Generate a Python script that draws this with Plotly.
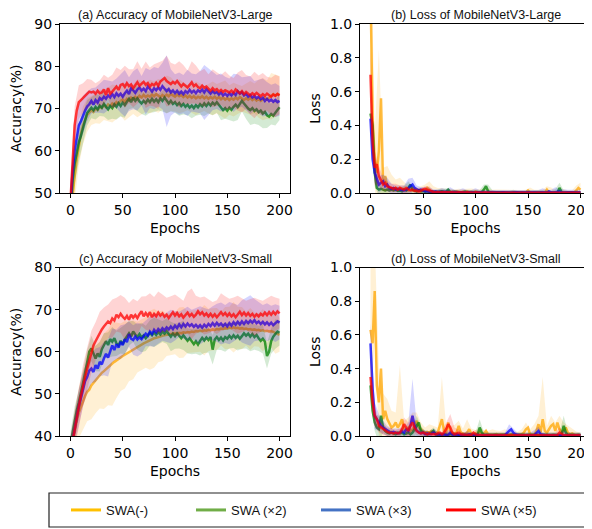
import plotly.graph_objects as go

EPOCHS = list(range(0, 201, 2))
SERIES = ["SWA(-)", "SWA (×2)", "SWA (×3)", "SWA (×5)"]
LEGEND_COLORS = ["#FFC000", "#70AD47", "#4472C4", "#FF0000"]
LINE_RGB = ["255,165,0", "0,128,0", "0,0,255", "255,0,0"]
TITLES = ["(a) Accuracy of MobileNetV3-Large", "(b) Loss of MobileNetV3-Large",
          "(c) Accuracy of MobileNetV3-Small", "(d) Loss of MobileNetV3-Small"]

# ---------------- (a) accuracy, Large ----------------
A_ORANGE = [44, 50, 54, 58, 61.5, 64, 66, 67.5, 68.5, 69,
            69.6, 69.2, 70, 69.6, 70.4, 70.1, 70.8, 70.3, 71, 70.6,
            71.2, 70.8, 71.5, 71.1, 71.8, 72.1, 71.6, 72.3, 71.9, 72.6,
            72.2, 72.8, 72.4, 73, 72.6, 73.2, 72.7, 73.1, 72.8, 73.3,
            72.9, 73.4, 73, 72.7, 73.2, 72.8, 73.3, 72.9, 73.4, 73,
            72.8, 73.3, 72.9, 73.2, 72.7, 73.1, 72.6, 73, 72.5, 72.9,
            72.4, 72.8, 72.5, 72.9, 72.4, 72.8, 72.3, 72.7, 72.4, 72.8,
            72.3, 72.7, 72.2, 72.6, 72.1, 72.5, 72, 72.4, 72.1, 72.6,
            72.2, 72.7, 72.3, 72, 72.4, 72.1, 72.5, 72, 72.4, 71.9,
            72.3, 71.8, 72.2, 72.6, 72.1, 72.5, 72.9, 73.4, 73, 73.5,
            73.2]
A_GREEN = [46, 53, 57, 60, 62, 63.5, 65.5, 67.5, 69, 69.6,
           70.2, 69.6, 70.4, 69.8, 70.7, 70.2, 71.1, 70.4, 69.8, 70.6,
           70.1, 71, 70.4, 71.3, 70.6, 71.4, 70.8, 71.6, 72.3, 71.5,
           72.6, 71.8, 72.4, 71.7, 71.2, 71.8, 71.3, 72.1, 71.5, 72.3,
           71.6, 72.2, 71.5, 72.4, 71.8, 72.6, 71.9, 71.2, 71.8, 71.1,
           71.5, 70.8, 71.3, 70.6, 71.1, 70.4, 70.9, 70.2, 70.7, 70.1,
           70.8, 70.3, 71, 70.5, 71.2, 70.6, 71.3, 70.7, 71.4, 70.9,
           71.5, 70.8, 70.2, 69.6, 70.1, 69.5, 70.2, 69.7, 70.4, 70.9,
           70.3, 71, 71.8, 71.2, 70.5, 70, 69.6, 70.1, 69.4, 69.8,
           69.1, 69.5, 68.8, 69.2, 68.4, 68.1, 68.7, 68.3, 69, 69.6,
           70.3]
A_BLUE = [47, 55, 60, 63.5, 66, 67, 68.5, 69.5, 70.5, 71,
          71.8, 70.9, 72, 71.4, 72.5, 72.1, 72.8, 72.3, 73.1, 72.6,
          73.4, 72.7, 73.6, 73, 73.5, 72.8, 73.6, 74.2, 73.4, 74.8,
          74.3, 73.7, 74.5, 75, 74.2, 74.7, 74.1, 75.2, 74.6, 74,
          74.8, 74.3, 75, 74.4, 75.3, 74.7, 74.1, 74.6, 73.8, 74.3,
          73.6, 74.2, 73.5, 74, 73.4, 74.1, 73.7, 74.4, 73.8, 74.2,
          73.6, 74.3, 73.9, 74.5, 73.8, 74.6, 74, 73.5, 74.1, 73.6,
          73.9, 73.3, 73.8, 73.1, 73.5, 73, 73.6, 73.1, 73.7, 73.2,
          74.1, 73.5, 73.9, 73.1, 73.5, 72.8, 73.2, 72.6, 73, 72.4,
          72.8, 72.2, 72.6, 71.8, 72.3, 71.7, 72.1, 71.6, 72, 71.5,
          71.8]
A_RED = [48, 58, 66, 69.5, 71.5, 72, 72.5, 73, 73.5, 74,
         73.8, 74, 73.5, 74.2, 73.6, 73.8, 74.5, 73.2, 74.8, 73.5,
         74, 74.6, 75.2, 74.4, 75.6, 75.8, 75.1, 76, 75.3, 75.7,
         74.8, 75.5, 76.2, 75.4, 75.9, 76.3, 75.6, 76, 75.2, 75.8,
         75.5, 76.1, 75.4, 76.4, 76.8, 77.2, 76.5, 76.1, 75.8, 76.3,
         75.9, 76.5, 75.7, 75.2, 75.8, 75.4, 75, 75.6, 76.2, 75.3,
         75.7, 75.1, 74.8, 75.4, 74.9, 75.2, 74.6, 74.2, 74.8, 74.3,
         74.6, 74, 74.4, 73.9, 74.3, 74.1, 73.8, 74.2, 73.7, 74.5,
         74, 73.6, 74.1, 73.4, 73.9, 73.5, 73.1, 73.6, 73.2, 73.7,
         73.3, 72.9, 73.4, 73, 73.5, 73.2, 72.8, 73.3, 73, 73.4,
         73.1]
# band half-widths, every 4 epochs
A_ORANGE_SD = [6, 6, 5, 4.5, 4, 3.5, 3.5, 4, 3.5, 4, 4.5, 4, 3.5, 4.5, 4, 3.5, 4.5, 4, 3.5, 4,
               3.5, 4, 3.5, 4.5, 4, 3.5, 4, 3.5, 3, 3.5, 4, 3.5, 3, 3.5, 4, 3.5, 4, 4.5, 3.5, 4,
               3.5, 3, 3.5, 4, 3.5, 4.5, 5, 4.5, 5.5, 5, 4.5]
A_GREEN_SD = [5, 5, 4.5, 3.5, 3, 2.5, 3, 2.5, 3, 2.5, 2.5, 3, 2.5, 3, 2.5, 2.5, 3, 2.5, 3, 2.5,
              2.5, 2, 2.5, 3, 2.5, 2.5, 3, 2.5, 2.5, 3, 2.5, 2.5, 3, 2.5, 3, 2.5, 3, 2.5, 3, 3.5,
              3, 2.5, 3, 3.5, 3, 3, 3.5, 3, 2.5, 3, 3]
A_BLUE_SD = [5, 5.5, 5, 4.5, 3.5, 3, 3, 3.5, 4, 3.5, 3, 3.5, 4.5, 5.5, 4, 4.5, 5, 3.5, 5.5, 4.5,
             5, 4.5, 5.5, 8.5, 5.5, 4.5, 5, 4.5, 5.5, 4.5, 4.5, 5, 6.5, 5.5, 4.5, 4, 4.5, 4, 3.5, 4.5,
             4, 3.5, 4, 4.5, 3.5, 4, 4.5, 4, 3.5, 4, 3.5]
A_RED_SD = [5, 4.5, 4, 3.5, 3.5, 3, 2.5, 3, 3.5, 2.5, 4, 4.5, 3.5, 5, 4, 4.5, 5, 3.5, 5.5, 4.5,
            5, 5.5, 4.5, 6, 5, 4.5, 5.5, 4.5, 4, 5, 4.5, 4, 4.5, 3.5, 4.5, 4, 3.5, 4.5, 4, 3.5,
            4.5, 5, 4, 4.5, 5.5, 4.5, 5, 4, 4.5, 5, 4.5]

# ---------------- (b) loss, Large ----------------
B_ORANGE = [1.2, 0.45, 0.2, 0.12, 0.25, 0.56, 0.05, 0.1, 0.04, 0.03,
            0.03, 0.02, 0.03, 0.02, 0.03, 0.02, 0.025, 0.02, 0.015, 0.02,
            0.015, 0.02, 0.01, 0.015, 0.01, 0.02, 0.01, 0.03, 0.02, 0.01,
            0.01, 0.005, 0.01, 0.005, 0.01, 0.008, 0.005, 0.01, 0.005, 0.008,
            0.005, 0.01, 0.005, 0.004, 0.008, 0.005, 0.01, 0.004, 0.006, 0.004,
            0.008, 0.003, 0.005, 0.004, 0.006, 0.003, 0.005, 0.003, 0.004, 0.003,
            0.005, 0.003, 0.004, 0.002, 0.004, 0.003, 0.005, 0.002, 0.004, 0.002,
            0.003, 0.002, 0.003, 0.002, 0.004, 0.015, 0.003, 0.002, 0.004, 0.002,
            0.003, 0.002, 0.004, 0.002, 0.02, 0.003, 0.002, 0.003, 0.002, 0.004,
            0.002, 0.003, 0.002, 0.004, 0.002, 0.003, 0.002, 0.004, 0.015, 0.03,
            0.02]
B_GREEN = [0.47, 0.4, 0.12, 0.03, 0.02, 0.025, 0.02, 0.015, 0.02, 0.015,
           0.02, 0.015, 0.02, 0.012, 0.015, 0.01, 0.02, 0.015, 0.03, 0.05,
           0.02, 0.015, 0.01, 0.015, 0.01, 0.012, 0.008, 0.01, 0.006, 0.008,
           0.005, 0.007, 0.005, 0.008, 0.01, 0.006, 0.008, 0.02, 0.006, 0.005,
           0.007, 0.004, 0.006, 0.004, 0.005, 0.008, 0.004, 0.005, 0.003, 0.005,
           0.004, 0.006, 0.003, 0.005, 0.02, 0.04, 0.01, 0.004, 0.003, 0.004,
           0.003, 0.004, 0.003, 0.004, 0.003, 0.002, 0.003, 0.002, 0.004, 0.002,
           0.003, 0.002, 0.003, 0.002, 0.004, 0.002, 0.003, 0.002, 0.003, 0.002,
           0.004, 0.002, 0.003, 0.002, 0.003, 0.002, 0.004, 0.002, 0.003, 0.002,
           0.03, 0.005, 0.002, 0.003, 0.002, 0.003, 0.002, 0.003, 0.002, 0.003,
           0.002]
B_BLUE = [0.44, 0.2, 0.12, 0.08, 0.05, 0.06, 0.07, 0.04, 0.05, 0.03,
          0.025, 0.03, 0.02, 0.025, 0.02, 0.018, 0.015, 0.02, 0.025, 0.04,
          0.05, 0.03, 0.02, 0.015, 0.02, 0.015, 0.01, 0.012, 0.008, 0.01,
          0.007, 0.009, 0.006, 0.008, 0.005, 0.007, 0.005, 0.006, 0.004, 0.006,
          0.004, 0.005, 0.004, 0.005, 0.003, 0.004, 0.003, 0.005, 0.003, 0.004,
          0.003, 0.004, 0.003, 0.005, 0.003, 0.004, 0.003, 0.004, 0.003, 0.004,
          0.003, 0.004, 0.003, 0.004, 0.003, 0.004, 0.003, 0.004, 0.003, 0.004,
          0.003, 0.004, 0.003, 0.004, 0.003, 0.004, 0.003, 0.004, 0.003, 0.004,
          0.003, 0.004, 0.003, 0.004, 0.003, 0.01, 0.004, 0.003, 0.004, 0.003,
          0.008, 0.003, 0.004, 0.003, 0.004, 0.003, 0.004, 0.003, 0.004, 0.003,
          0.004]
B_RED = [0.7, 0.3, 0.15, 0.17, 0.1, 0.07, 0.05, 0.06, 0.04, 0.035,
         0.03, 0.025, 0.03, 0.02, 0.03, 0.025, 0.02, 0.03, 0.02, 0.015,
         0.02, 0.012, 0.015, 0.01, 0.015, 0.02, 0.025, 0.02, 0.015, 0.008,
         0.006, 0.005, 0.006, 0.004, 0.005, 0.004, 0.006, 0.004, 0.005, 0.003,
         0.004, 0.003, 0.005, 0.003, 0.004, 0.003, 0.004, 0.002, 0.003, 0.002,
         0.004, 0.002, 0.003, 0.002, 0.003, 0.002, 0.003, 0.002, 0.003, 0.002,
         0.002, 0.001, 0.002, 0.001, 0.002, 0.001, 0.002, 0.001, 0.002, 0.001,
         0.002, 0.001, 0.002, 0.001, 0.002, 0.001, 0.002, 0.001, 0.002, 0.001,
         0.002, 0.001, 0.002, 0.001, 0.002, 0.001, 0.002, 0.001, 0.002, 0.001,
         0.002, 0.001, 0.002, 0.001, 0.002, 0.001, 0.002, 0.001, 0.002, 0.001,
         0.002]
B_ORANGE_SD = [0.5, 0.15, 0.6, 0.1, 0.12, 0.08, 0.05, 0.06, 0.04, 0.03, 0.03, 0.02, 0.03, 0.04, 0.05, 0.03, 0.02, 0.02, 0.015, 0.02,
               0.015, 0.02, 0.015, 0.015, 0.02, 0.015, 0.015, 0.015, 0.02, 0.015, 0.015, 0.015, 0.015, 0.015, 0.015, 0.015, 0.015, 0.015, 0.03, 0.015,
               0.015, 0.015, 0.02, 0.03, 0.015, 0.015, 0.02, 0.015, 0.015, 0.03, 0.04]
B_GREEN_SD = [0.12, 0.08, 0.04, 0.02, 0.02, 0.015, 0.015, 0.015, 0.02, 0.04, 0.02, 0.015, 0.015, 0.015, 0.015, 0.01, 0.015, 0.015, 0.02, 0.015,
              0.01, 0.01, 0.01, 0.015, 0.015, 0.01, 0.015, 0.03, 0.04, 0.015, 0.01, 0.01, 0.01, 0.01, 0.015, 0.01, 0.01, 0.01, 0.01, 0.01,
              0.01, 0.015, 0.01, 0.01, 0.02, 0.03, 0.015, 0.01, 0.01, 0.01, 0.01]
B_BLUE_SD = [0.08, 0.06, 0.05, 0.04, 0.04, 0.03, 0.025, 0.025, 0.03, 0.06, 0.04, 0.025, 0.015, 0.025, 0.025, 0.015, 0.015, 0.025, 0.015, 0.03,
             0.015, 0.015, 0.025, 0.015, 0.015, 0.025, 0.015, 0.015, 0.015, 0.015, 0.015, 0.015, 0.015, 0.015, 0.015, 0.015, 0.015, 0.015, 0.015, 0.015,
             0.015, 0.025, 0.015, 0.015, 0.03, 0.015, 0.015, 0.015, 0.015, 0.015, 0.015]
B_RED_SD = [0.15, 0.1, 0.06, 0.04, 0.03, 0.025, 0.025, 0.015, 0.025, 0.015, 0.015, 0.015, 0.015, 0.015, 0.025, 0.01, 0.01, 0.01, 0.01, 0.01,
            0.01, 0.01, 0.01, 0.01, 0.01, 0.01, 0.01, 0.01, 0.01, 0.01, 0.01, 0.005, 0.01, 0.005, 0.01, 0.005, 0.01, 0.005, 0.01, 0.005,
            0.01, 0.005, 0.01, 0.005, 0.01, 0.005, 0.01, 0.005, 0.01, 0.005, 0.01]

# ---------------- (c) accuracy, Small ----------------
C_ORANGE = [35, 38, 41, 43.5, 45.5, 47, 48.5, 49.5, 50.5, 51,
            52, 52.6, 53.4, 53.9, 54.5, 55, 55.4, 55.9, 56.3, 56.8,
            57.2, 57.6, 58, 58.3, 58.7, 59, 59.3, 59.6, 60, 60.2,
            60.5, 60.8, 61.1, 61.4, 61.7, 62, 62.2, 62.5, 62.7, 63,
            63.2, 63.3, 63.5, 63.6, 63.8, 63.9, 64, 64.1, 64.2, 64.3,
            64.4, 64.3, 64.5, 64.4, 64.6, 64.5, 64.7, 64.6, 64.8, 64.7,
            64.9, 64.8, 65, 64.9, 65.1, 65, 65.2, 65.1, 65.3, 65.2,
            65.4, 65.3, 65.5, 65.4, 65.6, 65.5, 65.7, 65.6, 65.8, 65.6,
            65.7, 65.5, 65.6, 65.4, 65.5, 65.3, 65.4, 65.2, 65.3, 65.1,
            65.2, 65, 65.1, 64.9, 65, 64.8, 64.9, 64.7, 64.5, 64.2,
            64]
C_GREEN = [38, 41, 44, 46, 48, 50, 52.5, 55, 57.5, 60,
           60.8, 59.5, 58.4, 59.6, 58.8, 60.6, 61.4, 62.5, 61.6, 63,
           62.4, 63.2, 62, 61.5, 62.6, 61.8, 62.9, 63.8, 64.4, 63.6,
           64.8, 64.1, 63.5, 64.2, 63.4, 63.9, 63.2, 63.8, 64.5, 63.9,
           64.6, 64, 64.7, 64.1, 64.8, 64.3, 64.9, 64.2, 63.6, 64.3,
           63.7, 64.4, 63.8, 63.2, 63.9, 63.3, 62.6, 63.2, 62.4, 61.8,
           62.5, 61.7, 62.6, 63.3, 62.7, 63.4, 62.8, 63.5, 60.5, 62.9,
           63.5, 62.8, 63.4, 62.7, 63.5, 63.1, 63.8, 63.2, 63.9, 63.3,
           63.8, 63.1, 63.7, 64.4, 63.8, 64.3, 63.6, 64.2, 63.5, 64,
           63.2, 62.6, 63.1, 62.4, 59, 60, 62.5, 63.6, 64.2, 64.8,
           64.5]
C_BLUE = [36, 39, 42, 44.5, 47, 49, 51, 53, 54, 55.5,
          56, 55.2, 56.8, 56, 57.6, 57, 58.4, 59.5, 58.6, 60.2,
          61.5, 60.4, 61.8, 61, 62.3, 61.6, 63, 62.3, 64.2, 63.1,
          62.8, 63.6, 62.9, 63.4, 63, 63.7, 64.3, 63.8, 64.8, 64.2,
          65.2, 64.6, 65.4, 64.9, 65.6, 65.1, 65.8, 65.3, 66, 65.4,
          66.2, 65.6, 66.5, 65.8, 66.6, 66, 66.7, 66.1, 66.5, 65.9,
          66.4, 65.8, 66.3, 65.7, 66.4, 65.9, 66.6, 66.1, 66.8, 66.2,
          66.9, 66.3, 66.7, 66.1, 66.6, 66, 66.8, 66.2, 67, 66.4,
          67.1, 66.5, 67.2, 66.6, 67.3, 66.8, 67.4, 66.9, 67.5, 66.8,
          67.2, 66.6, 67.1, 66.5, 67, 66.4, 66.9, 66.3, 66.8, 67.2,
          66.9]
C_RED = [36, 39, 42, 44, 47, 49.5, 52, 54, 56, 58,
         60, 61.5, 62.5, 63.5, 64.5, 65.3, 66, 66.6, 67.2, 66.8,
         67.9, 67.4, 68.8, 68.2, 69, 68.3, 67.8, 68.5, 67.6, 68.8,
         68.1, 68.7, 68, 68.9, 69.6, 68.4, 69.2, 68.5, 69.4, 68.2,
         69, 68.4, 69.3, 68.6, 69.1, 68.3, 68.8, 68, 68.7, 69.4,
         68.6, 69.2, 68.4, 68.9, 68.1, 68.7, 69.3, 68.5, 69, 68.3,
         68.8, 69.6, 68.9, 69.4, 68.6, 69.1, 68.4, 69, 68.3, 68.9,
         68.2, 68.8, 69.4, 68.7, 69.2, 68.5, 69.1, 68.4, 68.9, 68.2,
         68.8, 69.5, 68.7, 69.3, 68.6, 69.2, 68.5, 69, 68.3, 68.9,
         68.4, 69, 68.6, 69.3, 68.7, 69.4, 68.8, 69.5, 68.9, 69.6,
         69.1]
C_ORANGE_SD = [4, 5, 6, 7, 7, 8, 8, 8, 9, 9, 10, 9, 8, 8, 7, 7, 6, 6, 6, 7,
               7, 6, 6, 5, 5, 5, 6, 6, 5, 5, 5, 5, 6, 5, 5, 5, 4, 5, 5, 6,
               5, 5, 4, 5, 4, 4, 5, 4, 4, 5, 4]
C_GREEN_SD = [3, 3, 3, 3, 3, 3, 3, 3.5, 3, 3, 3.5, 3, 3, 3.5, 3, 2.5, 3, 3.5, 3, 3,
              3.5, 3, 2.5, 3, 3.5, 3, 3, 3.5, 3, 3, 3, 3.5, 3, 3, 3.5, 3, 3, 3.5, 3, 3,
              3.5, 3, 3, 3.5, 3, 3, 3.5, 3, 3, 3.5, 3]
C_BLUE_SD = [4, 4, 4, 4, 4, 3.5, 4, 3.5, 4, 4.5, 4, 3.5, 4, 3.5, 3, 3.5, 4, 3.5, 3, 3.5,
             4, 3.5, 3, 3.5, 4, 3.5, 3, 3.5, 4, 3.5, 4, 4.5, 4, 3.5, 4, 4.5, 5, 4.5, 5, 4.5,
             4, 5, 5.5, 6, 5, 4.5, 4, 4.5, 4, 4.5, 4]
C_RED_SD = [4, 4, 5, 5, 5, 5, 4.5, 5, 4.5, 4, 4.5, 4, 4.5, 5, 4, 4.5, 4, 3.5, 4, 4.5,
            4, 5, 4.5, 4, 4.5, 5, 4.5, 4, 5, 6, 4.5, 4, 4.5, 4, 3.5, 4, 4.5, 4, 3.5, 4,
            4.5, 4, 3.5, 4, 4.5, 4, 3.5, 4, 4.5, 4, 3.5]

# ---------------- (d) loss, Small ----------------
D_ORANGE = [0.63, 0.55, 0.86, 0.3, 0.2, 0.4, 0.1, 0.15, 0.1, 0.07,
            0.05, 0.06, 0.08, 0.05, 0.07, 0.1, 0.04, 0.03, 0.05, 0.03,
            0.04, 0.06, 0.09, 0.05, 0.04, 0.03, 0.02, 0.025, 0.02, 0.03,
            0.02, 0.015, 0.02, 0.06, 0.1, 0.03, 0.02, 0.08, 0.03, 0.02,
            0.015, 0.02, 0.06, 0.02, 0.015, 0.01, 0.02, 0.04, 0.015, 0.01,
            0.015, 0.01, 0.02, 0.01, 0.015, 0.03, 0.01, 0.008, 0.01, 0.008,
            0.012, 0.008, 0.01, 0.006, 0.01, 0.008, 0.006, 0.01, 0.006, 0.008,
            0.005, 0.008, 0.01, 0.02, 0.04, 0.05, 0.01, 0.008, 0.01, 0.03,
            0.07, 0.02, 0.1, 0.03, 0.02, 0.04, 0.06, 0.07, 0.03, 0.08,
            0.04, 0.02, 0.03, 0.05, 0.02, 0.01, 0.015, 0.008, 0.006, 0.005,
            0.004]
D_GREEN = [0.3, 0.15, 0.08, 0.05, 0.04, 0.12, 0.05, 0.03, 0.02, 0.015,
           0.02, 0.015, 0.01, 0.02, 0.015, 0.02, 0.01, 0.015, 0.02, 0.01,
           0.02, 0.04, 0.06, 0.08, 0.03, 0.02, 0.015, 0.01, 0.015, 0.02,
           0.03, 0.01, 0.008, 0.01, 0.006, 0.01, 0.008, 0.006, 0.01, 0.008,
           0.006, 0.008, 0.006, 0.008, 0.006, 0.008, 0.006, 0.008, 0.006, 0.008,
           0.006, 0.008, 0.05, 0.02, 0.006, 0.008, 0.006, 0.008, 0.006, 0.008,
           0.006, 0.008, 0.006, 0.008, 0.006, 0.008, 0.006, 0.008, 0.006, 0.008,
           0.006, 0.008, 0.006, 0.008, 0.006, 0.008, 0.006, 0.008, 0.006, 0.008,
           0.006, 0.008, 0.006, 0.008, 0.006, 0.008, 0.006, 0.008, 0.006, 0.008,
           0.006, 0.008, 0.06, 0.02, 0.006, 0.008, 0.006, 0.008, 0.006, 0.008,
           0.006]
D_BLUE = [0.55, 0.28, 0.12, 0.1, 0.08, 0.06, 0.05, 0.04, 0.03, 0.025,
          0.02, 0.025, 0.02, 0.015, 0.02, 0.03, 0.02, 0.04, 0.03, 0.06,
          0.12, 0.06, 0.03, 0.02, 0.015, 0.02, 0.01, 0.015, 0.01, 0.012,
          0.02, 0.01, 0.008, 0.01, 0.008, 0.01, 0.006, 0.008, 0.02, 0.008,
          0.006, 0.01, 0.006, 0.008, 0.005, 0.007, 0.005, 0.01, 0.006, 0.008,
          0.005, 0.006, 0.004, 0.005, 0.004, 0.006, 0.004, 0.005, 0.004, 0.005,
          0.004, 0.006, 0.004, 0.005, 0.004, 0.02, 0.03, 0.04, 0.02, 0.01,
          0.005, 0.004, 0.005, 0.004, 0.005, 0.004, 0.005, 0.004, 0.005, 0.02,
          0.03, 0.01, 0.005, 0.004, 0.005, 0.004, 0.005, 0.004, 0.005, 0.004,
          0.005, 0.004, 0.005, 0.004, 0.005, 0.004, 0.005, 0.004, 0.005, 0.004,
          0.004]
D_RED = [0.35, 0.2, 0.12, 0.1, 0.06, 0.05, 0.04, 0.03, 0.025, 0.02,
         0.02, 0.015, 0.02, 0.015, 0.02, 0.04, 0.07, 0.05, 0.03, 0.06,
         0.08, 0.05, 0.03, 0.02, 0.015, 0.02, 0.015, 0.01, 0.015, 0.01,
         0.012, 0.01, 0.015, 0.02, 0.01, 0.02, 0.04, 0.07, 0.05, 0.02,
         0.01, 0.015, 0.02, 0.01, 0.008, 0.01, 0.006, 0.008, 0.006, 0.02,
         0.01, 0.006, 0.005, 0.006, 0.005, 0.006, 0.004, 0.005, 0.004, 0.005,
         0.004, 0.005, 0.004, 0.005, 0.004, 0.005, 0.004, 0.005, 0.004, 0.005,
         0.004, 0.005, 0.004, 0.005, 0.004, 0.005, 0.004, 0.005, 0.004, 0.005,
         0.004, 0.005, 0.004, 0.005, 0.004, 0.005, 0.004, 0.005, 0.004, 0.005,
         0.02, 0.01, 0.005, 0.004, 0.005, 0.004, 0.005, 0.004, 0.005, 0.004,
         0.004]
D_ORANGE_SD = [0.4, 0.3, 0.2, 0.15, 0.12, 0.1, 0.06, 0.35, 0.05, 0.06, 0.1, 0.05, 0.04, 0.03, 0.05, 0.04, 0.03, 0.25, 0.04, 0.03,
               0.05, 0.03, 0.03, 0.08, 0.03, 0.02, 0.03, 0.02, 0.02, 0.03, 0.02, 0.02, 0.03, 0.02, 0.02, 0.02, 0.03, 0.04, 0.03, 0.06,
               0.05, 0.25, 0.04, 0.06, 0.05, 0.08, 0.05, 0.04, 0.03, 0.02, 0.015]
D_GREEN_SD = [0.08, 0.05, 0.08, 0.03, 0.02, 0.015, 0.015, 0.015, 0.015, 0.015, 0.02, 0.06, 0.03, 0.015, 0.015, 0.02, 0.015, 0.015, 0.015, 0.015,
              0.015, 0.015, 0.015, 0.015, 0.015, 0.015, 0.05, 0.015, 0.015, 0.015, 0.015, 0.015, 0.015, 0.015, 0.015, 0.015, 0.015, 0.015, 0.015, 0.015,
              0.015, 0.015, 0.015, 0.015, 0.015, 0.015, 0.06, 0.015, 0.015, 0.015, 0.015]
D_BLUE_SD = [0.12, 0.08, 0.05, 0.04, 0.03, 0.025, 0.025, 0.025, 0.03, 0.05, 0.22, 0.04, 0.025, 0.025, 0.015, 0.025, 0.015, 0.015, 0.025, 0.015,
             0.015, 0.015, 0.015, 0.025, 0.015, 0.015, 0.015, 0.015, 0.015, 0.015, 0.015, 0.015, 0.015, 0.04, 0.025, 0.015, 0.015, 0.015, 0.015, 0.03,
             0.025, 0.015, 0.015, 0.015, 0.015, 0.015, 0.03, 0.015, 0.015, 0.015, 0.015]
D_RED_SD = [0.12, 0.06, 0.04, 0.03, 0.025, 0.025, 0.015, 0.025, 0.04, 0.05, 0.05, 0.025, 0.015, 0.015, 0.015, 0.015, 0.015, 0.015, 0.04, 0.08,
            0.04, 0.015, 0.015, 0.015, 0.015, 0.025, 0.015, 0.015, 0.015, 0.015, 0.015, 0.015, 0.015, 0.015, 0.015, 0.015, 0.015, 0.015, 0.015, 0.015,
            0.015, 0.015, 0.015, 0.015, 0.015, 0.03, 0.015, 0.015, 0.015, 0.015, 0.015]

PANELS = [
    ([A_ORANGE, A_GREEN, A_BLUE, A_RED], [A_ORANGE_SD, A_GREEN_SD, A_BLUE_SD, A_RED_SD]),
    ([B_ORANGE, B_GREEN, B_BLUE, B_RED], [B_ORANGE_SD, B_GREEN_SD, B_BLUE_SD, B_RED_SD]),
    ([C_ORANGE, C_GREEN, C_BLUE, C_RED], [C_ORANGE_SD, C_GREEN_SD, C_BLUE_SD, C_RED_SD]),
    ([D_ORANGE, D_GREEN, D_BLUE, D_RED], [D_ORANGE_SD, D_GREEN_SD, D_BLUE_SD, D_RED_SD]),
]
for means, sds in PANELS:
    for m in means:
        assert len(m) == len(EPOCHS), len(m)
    for s in sds:
        assert len(s) == len(EPOCHS[::2]), len(s)

W, H = 592, 529
OFF = 8  # page body margin: figure is drawn 8px right/down of the window corner


def px_x(v):
    return (v - OFF) / W


def px_y(v):
    return 1 - (v - OFF) / H


XDOM = [[px_x(60), px_x(290)], [px_x(360), px_x(591)]]
YDOM = [[px_y(193), px_y(24)], [px_y(436), px_y(267.5)]]

fig = go.Figure()
for p, (means, sds) in enumerate(PANELS):
    ax = "" if p == 0 else str(p + 1)
    for rgb, m, s in zip(LINE_RGB, means, sds):
        bx = EPOCHS[::2]
        centre = m[::2]
        upper = [c + d for c, d in zip(centre, s)]
        lower = [c - d for c, d in zip(centre, s)]
        fig.add_trace(go.Scatter(
            x=bx + bx[::-1], y=upper + lower[::-1], fill="toself",
            fillcolor=f"rgba({rgb},0.17)", line=dict(width=0), mode="lines",
            showlegend=False, hoverinfo="skip", xaxis="x" + ax, yaxis="y" + ax))
        fig.add_trace(go.Scatter(
            x=EPOCHS, y=m, mode="lines", line=dict(color=f"rgba({rgb},0.75)", width=2.5),
            showlegend=False, xaxis="x" + ax, yaxis="y" + ax))

for name, col in zip(SERIES, LEGEND_COLORS):
    fig.add_trace(go.Scatter(x=[None], y=[None], mode="lines", name=name,
                             line=dict(color=col, width=3)))

tick_font = dict(family="DejaVu Sans", size=14, color="black")
axis_common = dict(showline=True, linecolor="black", linewidth=1, mirror=True,
                   ticks="outside", ticklen=4, tickcolor="black", showgrid=False,
                   zeroline=False, tickfont=tick_font, automargin=False)

layout = dict(width=W, height=H, margin=dict(l=0, r=0, t=0, b=0),
              paper_bgcolor="white", plot_bgcolor="white", font=tick_font)
YRANGES = [[50, 90], [0, 1], [40, 80], [0, 1]]
YDTICK = [10, 0.2, 10, 0.2]
YTITLE = ["Accuracy(%)", "Loss", "Accuracy(%)", "Loss"]
YSTANDOFF = [11, 6, 11, 6]
annotations = []
for p in range(4):
    col, row = p % 2, p // 2
    key = "" if p == 0 else str(p + 1)
    layout["xaxis" + key] = dict(axis_common, domain=XDOM[col], range=[-10, 210],
                                 tickvals=[0, 50, 100, 150, 200],
                                 anchor="y" + key,
                                 title=dict(text="Epochs", font=tick_font, standoff=6))
    ya = dict(axis_common, domain=YDOM[row], range=YRANGES[p], dtick=YDTICK[p],
              anchor="x" + key,
              title=dict(text=YTITLE[p], font=tick_font, standoff=YSTANDOFF[p]))
    if YDTICK[p] < 1:
        ya["tickformat"] = ".1f"
    layout["yaxis" + key] = ya
    annotations.append(dict(text=TITLES[p], xref="paper", yref="paper",
                            x=(XDOM[col][0] + XDOM[col][1]) / 2, y=YDOM[row][1],
                            xanchor="center", yanchor="bottom", yshift=0, showarrow=False,
                            font=dict(family="Liberation Sans", size=12.5, color="#111")))
layout["annotations"] = annotations
layout["shapes"] = [dict(type="rect", xref="paper", yref="paper", x0=px_x(49), x1=1.02,
                         y0=px_y(527), y1=px_y(493),
                         line=dict(color="#222", width=1.2), fillcolor="rgba(0,0,0,0)")]
layout["legend"] = dict(orientation="h", x=px_x(66), y=px_y(510), xanchor="left",
                        yanchor="middle", entrywidth=80, entrywidthmode="pixels",
                        itemwidth=30, bgcolor="rgba(0,0,0,0)", borderwidth=0,
                        font=dict(family="Liberation Sans", size=13, color="#111"))
fig.update_layout(**layout)
fig.write_html("out.html")
